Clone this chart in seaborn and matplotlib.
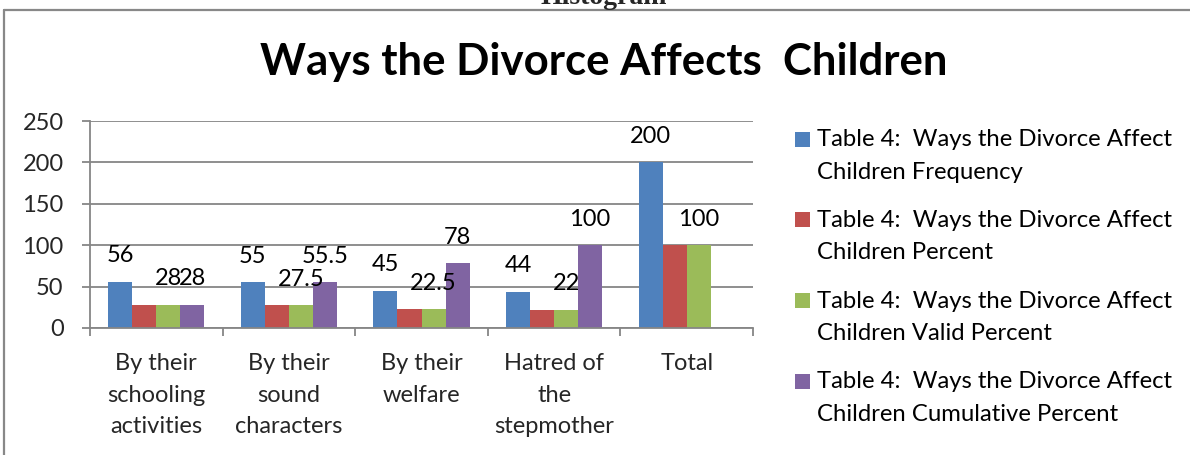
import numpy as np
import pandas as pd
import seaborn as sns
import matplotlib
matplotlib.use("Agg")
import matplotlib.pyplot as plt
from matplotlib.patches import Rectangle
from matplotlib.lines import Line2D

categories = ["By their\nschooling\nactivities", "By their\nsound\ncharacters",
              "By their\nwelfare", "Hatred of\nthe\nstepmother", "Total"]
series_names = [
    "Table 4:  Ways the Divorce Affect\nChildren Frequency",
    "Table 4:  Ways the Divorce Affect\nChildren Percent",
    "Table 4:  Ways the Divorce Affect\nChildren Valid Percent",
    "Table 4:  Ways the Divorce Affect\nChildren Cumulative Percent",
]
frequency = [56, 55, 45, 44, 200]
percent = [28, 27.5, 22.5, 22, 100]
valid_percent = [28, 27.5, 22.5, 22, 100]
cumulative_percent = [28, 55.5, 78, 100, np.nan]
# data labels shown in the reference (None = no label)
label_frequency = ["56", "55", "45", "44", "200"]
label_percent = [None, None, None, None, None]
label_valid = ["28", "27.5", "22.5", "22", "100"]
label_cumulative = ["28", "55.5", "78", "100", None]
yticks = [0, 50, 100, 150, 200, 250]

colors = ["#4F81BD", "#C0504D", "#9BBB59", "#8064A2"]

sns.set_theme(style="white")
plt.rcParams["font.family"] = ["Lato", "DejaVu Sans"]

values = [frequency, percent, valid_percent, cumulative_percent]
labels = [label_frequency, label_percent, label_valid, label_cumulative]
rows = []
for s, vals in zip(series_names, values):
    for c, v in zip(categories, vals):
        rows.append({"category": c, "series": s, "value": v})
df = pd.DataFrame(rows)

W, H = 1190, 455
fig = plt.figure(figsize=(W / 100, H / 100), dpi=100)
ax = fig.add_axes([90 / W, 127 / H, (753 - 90) / W, (328 - 121) / H])

sns.barplot(data=df, x="category", y="value", hue="series", order=categories,
            hue_order=series_names, palette=colors, width=0.724, gap=0,
            saturation=1, errorbar=None, ax=ax, legend=False, linewidth=0)

n = len(series_names)
bw = 0.724 / n
for si in range(n):
    for ci in range(len(categories)):
        lab = labels[si][ci]
        v = values[si][ci]
        if lab is None or v is None or (isinstance(v, float) and np.isnan(v)):
            continue
        x = ci - 0.724 / 2 + bw * (si + 0.5)
        ax.annotate(lab, (x, v), xytext=(0, 26), textcoords="offset pixels",
                    ha="center", va="center", fontsize=17, color="black")

ax.set_ylim(0, 250)
ax.set_xlim(-0.5, len(categories) - 0.5)
ax.set_yticks(yticks)
ax.set_yticklabels([str(t) for t in yticks])
ax.yaxis.grid(True, color="#868686", linewidth=1.3)
ax.set_axisbelow(True)
ax.set_xlabel("")
ax.set_ylabel("")
for side in ["top", "right"]:
    ax.spines[side].set_visible(False)
for side in ["left", "bottom"]:
    ax.spines[side].set_color("#868686")
    ax.spines[side].set_linewidth(1.3)

ax.set_xticks(range(len(categories)))
ax.set_xticklabels(categories, fontsize=17, linespacing=1.62)
ax.set_xticks(np.arange(-0.5, len(categories), 1), minor=True)
ax.tick_params(axis="x", which="major", length=0, pad=18)
ax.tick_params(axis="x", which="minor", length=6, width=1.3, color="#868686", bottom=True)
ax.tick_params(axis="y", which="major", length=6, width=1.3, color="#868686", left=True,
               labelsize=17, pad=13)

# legend drawn as squares + two-line texts (square aligned with first line)
for i, (name, col) in enumerate(zip(series_names, colors)):
    yc = 139 + i * 80.7
    fig.add_artist(Rectangle((795 / W, 1 - (yc + 7.5) / H), 15 / W, 15 / H,
                             facecolor=col, edgecolor="none", transform=fig.transFigure))
    fig.text(817 / W, 1 - (yc + 17) / H, name, ha="left", va="center",
             fontsize=17.2, linespacing=1.68, color="black")

fig.text(604 / W, 1 - 62 / H, "Ways the Divorce Affects  Children",
         ha="center", va="center", fontsize=31.5, fontweight="bold", color="black")
fig.text(604 / W, 1 - 4 / H, "Histogram", ha="center", va="baseline",
         fontsize=20, fontweight="bold", family=["Liberation Serif", "DejaVu Serif"])

fig.add_artist(Line2D([4 / W, 4 / W], [0, 1 - 10 / H], color="#888888", lw=1.6,
                      transform=fig.transFigure))
fig.add_artist(Line2D([4 / W, 1], [1 - 10 / H, 1 - 10 / H], color="#888888", lw=1.6,
                      transform=fig.transFigure))

fig.savefig("out.png", dpi=100)
